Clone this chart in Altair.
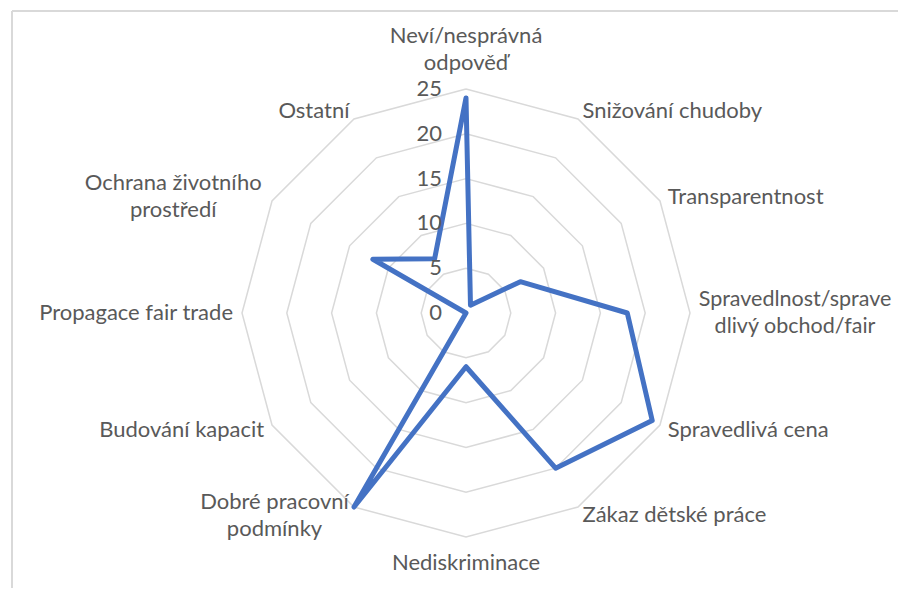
import altair as alt
import pandas as pd

# ---- data ----
categories = [
    "Neví/nesprávná\nodpověď",
    "Snižování chudoby",
    "Transparentnost",
    "Spravedlnost/sprave\ndlivý obchod/fair",
    "Spravedlivá cena",
    "Zákaz dětské práce",
    "Nediskriminace",
    "Dobré pracovní\npodmínky",
    "Budování kapacit",
    "Propagace fair trade",
    "Ochrana životního\nprostředí",
    "Ostatní",
]
values = [24, 1, 7, 18, 24, 20, 6, 25, 0, 0, 12, 7]
tick_levels = [0, 5, 10, 15, 20, 25]

# ---- layout constants ----
W, H = 890, 580
CX, CY = 458, 305          # centre of the radar in plot pixels
RMAX = 25
R_PX = 224                 # pixel radius of the outer ring
K = R_PX / RMAX
xdom = [-CX / K, (W - CX) / K]
ydom = [-(H - CY) / K, CY / K]
N = len(categories)

BLUE = "#4472C4"
GRID = "#D9D9D9"
TXT = "#595959"
FONT = "Lato"
FS = 22
LH = 27

xs = alt.Scale(domain=xdom, nice=False, zero=False)
ys = alt.Scale(domain=ydom, nice=False, zero=False)
noax = None

# series table (closed polygon)
series = pd.DataFrame({
    "idx": list(range(N)) + [N],
    "value": values + [values[0]],
})

# grid rings table
grid = pd.DataFrame(
    [{"level": lv, "idx": i} for lv in tick_levels[1:] for i in range(N + 1)]
)

labels = pd.DataFrame({"idx": list(range(N)), "label": categories})
ticks = pd.DataFrame({"level": tick_levels})

ang = f"datum.idx * 2 * PI / {N}"


def polar(chart, rexpr):
    return chart.transform_calculate(
        px=f"({rexpr}) * sin({ang})",
        py=f"({rexpr}) * cos({ang})",
    )


rings = polar(alt.Chart(grid), "datum.level").mark_line(
    color=GRID, strokeWidth=1.5
).encode(
    x=alt.X("px:Q", scale=xs, axis=noax),
    y=alt.Y("py:Q", scale=ys, axis=noax),
    detail="level:N",
    order="idx:Q",
)

line = polar(alt.Chart(series), "datum.value").mark_line(
    color=BLUE, strokeWidth=5, strokeJoin="round", strokeCap="round"
).encode(
    x=alt.X("px:Q", scale=xs, axis=noax),
    y=alt.Y("py:Q", scale=ys, axis=noax),
    order="idx:Q",
)

tick_text = alt.Chart(ticks).mark_text(
    align="right", baseline="middle", dx=-24, font=FONT, fontSize=FS, color=TXT
).encode(
    x=alt.value(CX),
    y=alt.Y("level:Q", scale=ys, axis=noax),
    text="level:Q",
)

RL = RMAX + 9 / K


def lab(filter_expr, rl, fs=FS, **kw):
    return polar(alt.Chart(labels), str(rl)).transform_filter(filter_expr).mark_text(
        font=FONT, fontSize=fs, color=TXT, lineBreak="\n", lineHeight=LH, **kw
    ).encode(
        x=alt.X("px:Q", scale=xs, axis=noax),
        y=alt.Y("py:Q", scale=ys, axis=noax),
        text="label:N",
    )


label_layers = [
    lab("indexof([1,2,4,5], datum.idx) >= 0", RL, align="left", baseline="middle"),
    lab("indexof([8,9,11], datum.idx) >= 0", RL, align="right", baseline="middle"),
    lab("datum.idx == 0", RMAX + 16 / K, align="center", baseline="bottom", dy=-25),
    lab("datum.idx == 6", RMAX + 16 / K, align="center", baseline="top"),
    lab("datum.idx == 3", RL, fs=21.5, align="center", baseline="middle", dx=96, dy=-13),
    lab("datum.idx == 7", RL, align="center", baseline="middle", dx=-75, dy=-13),
    lab("datum.idx == 10", RL, align="center", baseline="middle", dx=-91, dy=-14),
]

border_top = alt.Chart(ticks).mark_rule(color=GRID, strokeWidth=1.5).encode(
    x=alt.value(4), x2=alt.value(W + 20), y=alt.value(3)
)
border_left = alt.Chart(ticks).mark_rule(color=GRID, strokeWidth=1.5).encode(
    x=alt.value(4), y=alt.value(3), y2=alt.value(H + 20)
)

chart = alt.layer(
    border_top, border_left, rings, line, tick_text, *label_layers
).properties(
    width=W, height=H,
    autosize=alt.AutoSizeParams(type="none"),
    padding=0,
).configure_view(stroke=None)

chart.save("out.html", embed_options={"renderer": "svg", "actions": False})
